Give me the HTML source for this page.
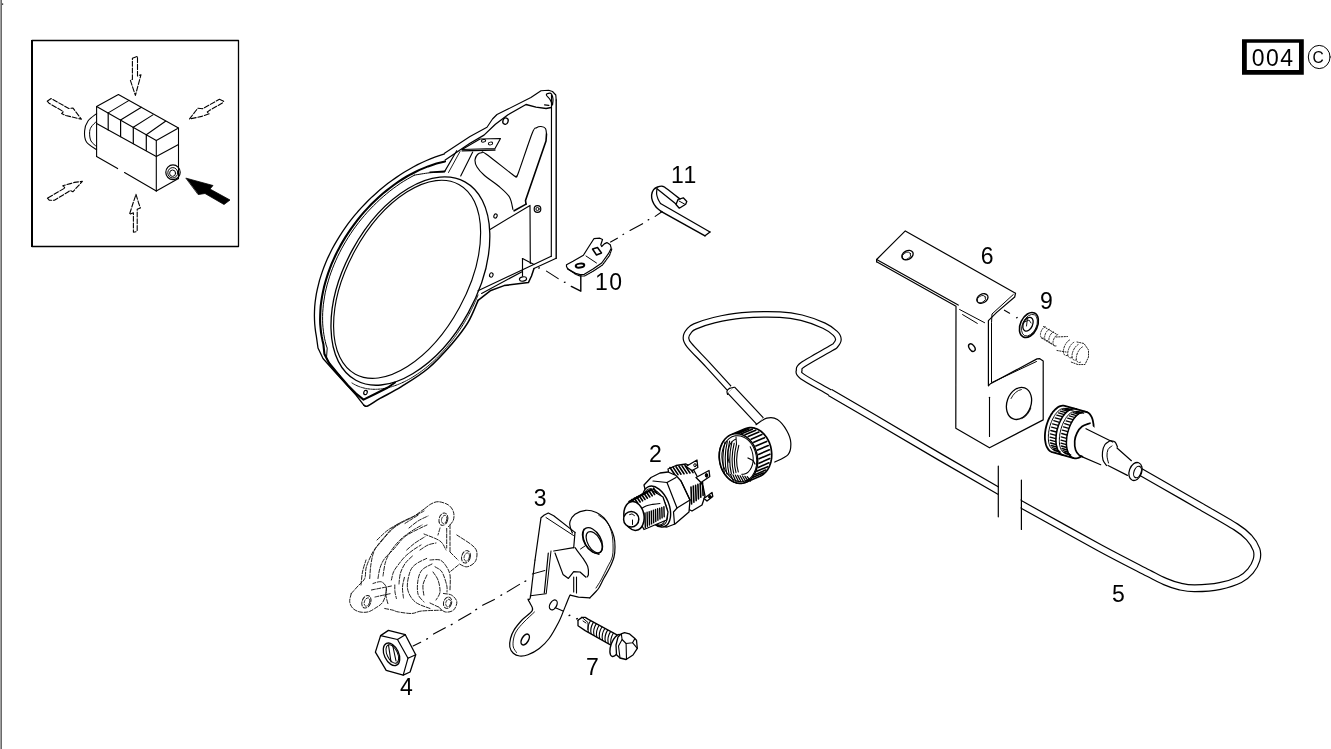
<!DOCTYPE html>
<html><head><meta charset="utf-8"><style>
html,body{margin:0;padding:0;background:#fff;}
body{width:1331px;height:749px;overflow:hidden;position:relative;}
svg{position:absolute;left:0;top:0;will-change:transform;}
text{font-family:"Liberation Sans",sans-serif;fill:#000;}
</style></head><body>
<svg width="1331" height="749" viewBox="0 0 1331 749" stroke-linecap="round" stroke-linejoin="round">
<rect x="0" y="0" width="1" height="749" fill="#a0a0a0"/>
<rect x="1" y="0" width="1" height="749" fill="#6a6a6a"/>
<rect x="2" y="3.5" width="1.2" height="1.2" fill="#000"/>
<rect x="32" y="40.5" width="206.5" height="206" fill="none" stroke="#000" stroke-width="1.3"/>
<rect x="31" y="40" width="2" height="207" fill="#000"/>
<path d="M1242 39.2 H1303.8 V74.7 H1242 Z M1246.8 42.8 V69.9 H1299 V42.8 Z" fill="#000" fill-rule="evenodd"/>
<text x="1251.8" y="65.8" font-size="23" letter-spacing="1.4">004</text>
<ellipse cx="1319.2" cy="57" rx="10.9" ry="11.6" transform="rotate(0 1319.2 57)" stroke="#000" stroke-width="1" fill="none"/>
<text x="1312.6" y="63.1" font-size="15.6">C</text>
<path d="M96.6 106.5 L118.4 94.5 L178.5 128 L156.3 140.5 L96.6 106.5Z" stroke="#000" stroke-width="1.1" fill="none"/>
<path d="M156.3 140.5 L156.3 190.9" stroke="#000" stroke-width="1.1" fill="none"/>
<path d="M178.5 128 L178.5 178.6" stroke="#000" stroke-width="1.1" fill="none"/>
<path d="M96.6 106.5 L96.6 156.4" stroke="#000" stroke-width="1.1" fill="none"/>
<path d="M156.3 190.9 L178.5 178.6" stroke="#000" stroke-width="1.1" fill="none"/>
<path d="M96.6 156.4 L117.6 168.6" stroke="#000" stroke-width="1.1" fill="none"/>
<path d="M124.5 172.5 L156.3 190.9" stroke="#000" stroke-width="1.1" fill="none"/>
<path d="M108.2 112.9 L129.1 100.4" stroke="#000" stroke-width="1.1" fill="none"/>
<path d="M120.6 120 L141.4 107.3" stroke="#000" stroke-width="1.1" fill="none"/>
<path d="M133.3 127.3 L152.9 114.9" stroke="#000" stroke-width="1.1" fill="none"/>
<path d="M146.3 134.8 L165.5 121.3" stroke="#000" stroke-width="1.1" fill="none"/>
<path d="M108.2 112.9 L108.2 130" stroke="#000" stroke-width="1.2" fill="none"/>
<path d="M120.6 120 L120.6 136.6" stroke="#000" stroke-width="1.2" fill="none"/>
<path d="M133.3 127.3 L133.3 143.6" stroke="#000" stroke-width="1.2" fill="none"/>
<path d="M146.3 134.8 L146.3 150.3" stroke="#000" stroke-width="1.2" fill="none"/>
<path d="M96.6 123.5 L156.3 156.4 L178.5 144.6" stroke="#000" stroke-width="1.1" fill="none"/>
<path d="M96.6 113.6 C95.2 114.8 90 118.1 88 121 C86 123.9 84.8 127.5 84.6 131 C84.3 134.5 84.5 138.9 86.5 142 C88.5 145.1 94.9 148.3 96.6 149.6" stroke="#000" stroke-width="1.1" fill="none"/>
<path d="M96.6 121.3 C95.7 122.2 92.4 125 91.2 127 C90 128.9 89.6 130.7 89.6 133 C89.6 135.3 89.8 138.7 91 141 C92.2 143.3 95.7 145.7 96.6 146.6" stroke="#000" stroke-width="1" fill="none"/>
<ellipse cx="173" cy="172.3" rx="7.2" ry="7.4" transform="rotate(0 173 172.3)" stroke="#000" stroke-width="1.2" fill="none"/>
<ellipse cx="172.8" cy="172.8" rx="5" ry="5.2" transform="rotate(0 172.8 172.8)" stroke="#000" stroke-width="1" fill="none"/>
<ellipse cx="172.6" cy="173.2" rx="3" ry="3.2" transform="rotate(0 172.6 173.2)" stroke="#000" stroke-width="1" fill="none"/>
<path d="M186.2 178.2 L213 185.5 L210 189 L230 200 L224 204.5 L205 193.5 L198.5 194.5Z" stroke="#000" stroke-width="0.8" fill="#000"/>
<path d="M132.4 58.3 L137.5 56.3 L137.5 76 L141 74.7 L135.4 95.4 L130.4 80.4 L132.4 79.4Z" stroke="#000" stroke-width="1.1" fill="none" stroke-dasharray="5 1.8"/>
<path d="M136 194.4 L138.5 202.7 L140.4 207.9 L137.2 209.2 L137.2 230.3 L136.6 231.6 L133.4 232.2 L133.4 212.7 L129.5 214.3 L133.4 202.1Z" stroke="#000" stroke-width="1.1" fill="none" stroke-dasharray="5 1.8"/>
<path d="M47.2 101.2 L51.1 98.5 L68.8 108.5 L73 108.1 L81.4 119.2 L65.8 115.5 L61.6 113.6 L63.4 111.6 L49 103.2Z" stroke="#000" stroke-width="1.1" fill="none" stroke-dasharray="5 1.8"/>
<path d="M219.4 99.3 L223.7 101.2 L222.3 103.1 L209.2 110.6 L207.3 112 L209.2 113.8 L201.7 116.4 L189.5 119 L195.6 111 L198 108.2 L202.6 108.7Z" stroke="#000" stroke-width="1.1" fill="none" stroke-dasharray="5 1.8"/>
<path d="M47.4 198.2 L49.2 200.2 L54.4 200.2 L68.4 191.8 L70 190.4 L72.8 191.8 L82.4 181.4 L74.4 182.4 L70.4 183.6 L62.8 185.8 L65.2 187.8Z" stroke="#000" stroke-width="1.1" fill="none" stroke-dasharray="5 1.8"/>
<path d="M556.2 100 L555.8 95 L552.5 91.5 L548.6 90.3 L541 90.7 L530.9 97.5 L508 109.1 L497 114.5 L492.5 119 L487 127.3 L470 136.4 L444.5 153.2" stroke="#000" stroke-width="1.15" fill="none"/>
<path d="M444.5 153.8 L440 155.3 L435.5 156.9 L431 158.6 L426.5 160.5 L422.1 162.5 L417.6 164.7 L413.2 167 L408.9 169.5 L404.5 172 L400.2 174.7 L396 177.6 L391.9 180.5 L387.7 183.6 L383.7 186.7 L379.7 190 L375.9 193.4 L372 196.9 L368.3 200.5 L364.7 204.2 L361.2 207.9 L357.7 211.8 L354.4 215.7 L351.2 219.7 L348.1 223.7 L345.1 227.9 L342.2 232.1 L339.5 236.3 L336.9 240.6 L334.4 244.9 L332 249.3 L329.8 253.7 L327.7 258.1 L325.8 262.5 L324 267 L322.4 271.4 L320.9 275.9 L319.5 280.4 L318.4 284.8 L317.3 289.3 L316.4 293.7 L315.7 298.1 L315.1 302.5 L314.7 306.8 L314.5 311.1 L314.4 315.4 L314.5 319.6 L314.7 323.7 L315.1 327.8 L315.6 331.8 L316.3 335.8 L318 348 L323 358.5 L335 372 L346.7 384.7 L356 395 L364 405.3" stroke="#000" stroke-width="1.3" fill="none"/>
<path d="M364 405.3 C364.6 405.4 365 407 367.7 405.9 C370.4 404.8 374.4 401.6 380 398.4 C385.6 395.2 393.4 391.6 401.4 386.6 C409.4 381.6 419.6 375.6 428 368.5 C436.4 361.4 445.4 351.3 452 343.7 C458.6 336.1 463.3 330.1 467.7 322.9 C472.1 315.7 476.4 304.1 478.1 300.3" stroke="#000" stroke-width="1.6" fill="none"/>
<path d="M551.2 107.5 L546.1 108.5 L536 107.2 L526 104.5 L508 114.8 L495.4 124.3 L484 135.1 L470 143.3 L445.2 160" stroke="#000" stroke-width="1.3" fill="none"/>
<path d="M445 161.4 L440.8 162.4 L436.5 163.5 L432.3 164.9 L428 166.4 L423.8 168.1 L419.5 169.9 L415.3 172 L411 174.2 L406.8 176.5 L402.7 179 L398.6 181.7 L394.5 184.5 L390.5 187.5 L386.5 190.6 L382.6 193.8 L378.7 197.2 L375 200.7 L371.3 204.3 L367.7 208.1 L364.2 211.9 L360.8 215.9 L357.6 219.9 L354.4 224.1 L351.3 228.3 L348.4 232.6 L345.6 236.9 L342.9 241.4 L340.3 245.9 L337.9 250.4 L335.6 255 L333.5 259.6 L331.5 264.2 L329.7 268.9 L328 273.6 L326.5 278.3 L325.1 283 L323.9 287.6 L322.9 292.3 L322 296.9 L321.3 301.5 L320.7 306.1 L320.4 310.6 L320.2 315.1 L320.1 319.5 L320.2 323.8 L320.6 328.1 L321 332.3 L321.7 336.4 L322.5 340.4 L323.4 344.3 L324.4 354 L329 363 L338 374 L348 385.5 L356 393.5 L363.5 399.6 L375 394 L387.9 387.5 L395 382.5" stroke="#000" stroke-width="2.1" fill="none"/>
<path d="M444.4 172 C441.9 172.1 434.7 172.3 429.7 172.8 C424.7 173.3 417.1 174.7 414.6 175.1" stroke="#000" stroke-width="1.0" fill="none"/>
<path d="M414.6 175.1 L411 177 L407.4 179.1 L403.8 181.2 L400.2 183.5 L396.7 186 L393.2 188.5 L389.8 191.1 L386.4 193.9 L383.1 196.7 L379.8 199.6 L376.6 202.7 L373.4 205.8 L370.3 209 L367.2 212.3 L364.3 215.7 L361.4 219.1 L358.6 222.6 L355.9 226.2 L353.2 229.9 L350.7 233.6 L348.3 237.3 L345.9 241.2 L343.7 245 L341.5 248.9 L339.5 252.8 L337.5 256.8 L335.7 260.8 L334 264.8 L332.4 268.8 L330.9 272.8 L329.5 276.8 L328.3 280.9 L327.1 284.9 L326.1 288.9 L325.2 292.9 L324.5 296.9 L323.9 300.9 L323.3 304.8 L323 308.7 L322.7 312.6 L322.6 316.4 L322.6 320.2 L322.7 323.9 L323 327.6 L323.4 331.2 L323.9 334.7 L324.5 338.2 L325.3 341.6 L326.1 344.9 L327.2 348.1 L326.5 358 L331 365.5 L340 375.5" stroke="#000" stroke-width="1.0" fill="none"/>
<ellipse cx="407.1" cy="279.3" rx="59.5" ry="108.1" transform="rotate(28.6 407.1 279.3)" stroke="#000" stroke-width="1.15" fill="none"/>
<ellipse cx="410.4" cy="281.1" rx="65.9" ry="113.2" transform="rotate(28.8 410.4 281.1)" stroke="#000" stroke-width="1.3" fill="none"/>
<path d="M 352 383 A 67 114.5 28.8 0 0 478 295" stroke="#000" stroke-width="1.0" fill="none" stroke-dasharray="1.5 1"/>
<path d="M551.5 94.5 L551.3 256.3" stroke="#000" stroke-width="1.15" fill="none"/>
<path d="M556.2 100 L556.2 258.3" stroke="#000" stroke-width="1.4" fill="none"/>
<path d="M478 290.8 L551.2 256.3" stroke="#000" stroke-width="1.15" fill="none"/>
<path d="M556.2 258.3 L534 268.5" stroke="#000" stroke-width="1.15" fill="none"/>
<path d="M481.6 293.4 L522.5 271.5" stroke="#000" stroke-width="1.15" fill="none"/>
<path d="M534 268.5 L531.5 276 L528.4 282.6 L504.1 285.6 L490.2 290.8 L478.1 300.3" stroke="#000" stroke-width="1.5" fill="none"/>
<path d="M522.5 258.5 L522.5 276" stroke="#000" stroke-width="1.15" fill="none"/>
<path d="M522.5 258.5 L534 264.5" stroke="#000" stroke-width="1.15" fill="none"/>
<ellipse cx="523" cy="279" rx="3.6" ry="2.1" transform="rotate(-10 523 279)" stroke="#000" stroke-width="1.15" fill="none"/>
<path d="M490 229.5 L530 205.4 L530.3 263.5" stroke="#000" stroke-width="1.15" fill="none"/>
<path d="M512.9 209.4 C512.3 207.3 511.7 200.7 509.3 196.8 C506.9 192.9 502.7 189.6 498.5 186 C494.3 182.4 487.6 178.2 484 175 C480.4 171.8 478.5 169.5 477 167 C475.5 164.5 474.9 162.1 475 160 C475.1 157.9 476.4 155.7 477.5 154.5 C478.6 153.3 480.1 152.9 481.5 152.8 C482.9 152.7 480.7 150.3 486 154 C491.3 157.7 508.1 171.3 513.1 175 C518.1 178.7 515.1 176.6 516 176.2 C516.9 175.8 515.8 179.7 518.5 172.5 C521.2 165.3 529.2 140.6 532.2 133.2 C535.2 125.7 535 128.9 536.5 127.8 C538 126.7 539.5 126.4 541 126.5 C542.5 126.6 544.6 127.2 545.5 128.5 C546.4 129.8 546.3 133.1 546.5 134" stroke="#000" stroke-width="1.15" fill="none"/>
<path d="M546.5 134 L546 141 L525.5 200.4 L526 204.1" stroke="#000" stroke-width="1.6" fill="none"/>
<path d="M526.1 204.1 L514.1 210.8" stroke="#000" stroke-width="1.6" fill="none"/>
<path d="M444.7 171.4 L456.7 150.7" stroke="#000" stroke-width="1.15" fill="none"/>
<path d="M448.5 172.5 L460 151.5" stroke="#000" stroke-width="0.9" fill="none"/>
<path d="M460.7 176 L472.7 152" stroke="#000" stroke-width="1.15" fill="none"/>
<path d="M430 172.2 L444.7 171.4" stroke="#000" stroke-width="1.6" fill="none"/>
<path d="M462 149.5 L480 139 L500.5 138.5 L495 148.5 L462 149.5" stroke="#000" stroke-width="1.15" fill="none"/>
<path d="M462 150.8 L495 150" stroke="#000" stroke-width="1.3" fill="none"/>
<ellipse cx="483.5" cy="140.8" rx="2.2" ry="1.3" transform="rotate(-10 483.5 140.8)" stroke="#000" stroke-width="1" fill="none"/>
<ellipse cx="490.5" cy="143.5" rx="2.2" ry="1.4" transform="rotate(-10 490.5 143.5)" stroke="#000" stroke-width="1" fill="none"/>
<ellipse cx="505.5" cy="121.1" rx="2.6" ry="3.2" transform="rotate(20 505.5 121.1)" stroke="#000" stroke-width="1.3" fill="none"/>
<path d="M552.5 105 C552.6 104 553.2 100.8 553 99 C552.8 97.2 552.2 95 551.5 94 C550.8 93 549.4 93.1 548.5 93.3 C547.6 93.5 546.1 94 546.4 95 C546.6 96 549 97.8 550 99.5 C551 101.2 552.1 104.1 552.5 105" stroke="#000" stroke-width="1.2" fill="none"/>
<path d="M544.6 104.8 L548.8 105.4" stroke="#000" stroke-width="1.3" fill="none"/>
<ellipse cx="495.5" cy="216" rx="1.6" ry="2.2" transform="rotate(20 495.5 216)" stroke="#000" stroke-width="1.1" fill="none"/>
<ellipse cx="537.5" cy="209" rx="3.3" ry="3.3" transform="rotate(0 537.5 209)" stroke="#000" stroke-width="1.2" fill="none"/>
<ellipse cx="537.5" cy="209" rx="1.6" ry="1.6" transform="rotate(0 537.5 209)" stroke="#000" stroke-width="1" fill="none"/>
<ellipse cx="491.3" cy="275" rx="1.7" ry="2.2" transform="rotate(20 491.3 275)" stroke="#000" stroke-width="1.1" fill="none"/>
<ellipse cx="365.5" cy="392.5" rx="1.7" ry="2.2" transform="rotate(20 365.5 392.5)" stroke="#000" stroke-width="1.2" fill="none"/>
<path d="M660.5 203.5 L710 232" stroke="#000" stroke-width="1.3" fill="none"/>
<path d="M661 211.3 L705 235.8" stroke="#000" stroke-width="1.5" fill="none"/>
<path d="M710 232 L705 235.8" stroke="#000" stroke-width="1.3" fill="none"/>
<path d="M661 211.3 C660.2 210.6 657.4 208.7 656 207 C654.6 205.3 653.2 203 652.5 201 C651.8 199 651.4 196.9 651.6 195 C651.8 193.1 652.6 190.9 653.6 189.6 C654.6 188.3 656.1 187.6 657.6 187 C659.1 186.4 660.9 185.9 662.4 186.2 C663.9 186.4 663.5 186.4 666.4 188.5 C669.3 190.6 677.7 197.2 680 199" stroke="#000" stroke-width="1.4" fill="none"/>
<path d="M657 188.8 C656.9 189.7 656.4 192.3 656.6 194 C656.8 195.7 657.4 197.4 658 199 C658.6 200.6 660.1 202.8 660.5 203.5" stroke="#000" stroke-width="1.2" fill="none"/>
<path d="M657 188.8 L676 204" stroke="#000" stroke-width="1.3" fill="none"/>
<path d="M678 199.5 L683.3 197.8 L686.8 201.5 L685.7 204.2 L679.3 208.2 L676 204.5 L678 199.5" stroke="#000" stroke-width="1.3" fill="none"/>
<path d="M679 201 L684.5 204" stroke="#000" stroke-width="1" fill="none"/>
<line x1="655.2" y1="216.4" x2="662.2" y2="211.5" stroke="#000" stroke-width="1.1"/>
<path d="M566.5 264.7 L573 261.3 L583.4 255.2 L587.8 248.2 L593.9 238.7 L599.9 238.2 L602.5 239.5 L600.8 244.8 L601.7 246.5 L604.3 243.9 L606.9 242.6 L610.3 244.8 L611.2 248.2 L608.6 253.4 L601.7 263 L593 269.1 L584.3 274.3 L580 274.7 L575.6 273.4 L567.8 269.1 L566.5 266.5Z" stroke="#000" stroke-width="1.2" fill="none"/>
<path d="M567.5 268.5 L576 274.5 L580 276 L584.5 276 L593.5 271 L602.5 265 L609.5 255.5 L611.8 249" stroke="#000" stroke-width="1.2" fill="none" stroke-dasharray="1.6 1"/>
<ellipse cx="580" cy="265.6" rx="4.3" ry="2" transform="rotate(-8 580 265.6)" stroke="#000" stroke-width="2" fill="none"/>
<path d="M592.5 249 L597.5 247.5 L601.5 253 L596.5 255Z" stroke="#000" stroke-width="1.5" fill="none"/>
<path d="M586 256 L596.5 263" stroke="#000" stroke-width="1" fill="none"/>
<path d="M580.8 275 L580.8 291.2 L571.3 286.4" stroke="#000" stroke-width="1.4" fill="none"/>
<line x1="610.6" y1="242.1" x2="617.4" y2="238.2" stroke="#000" stroke-width="1.1"/>
<line x1="623" y1="234.5" x2="623.6" y2="234.2" stroke="#000" stroke-width="1.2"/>
<line x1="630" y1="230.5" x2="642.6" y2="223.7" stroke="#000" stroke-width="1.1"/>
<line x1="648.2" y1="219.9" x2="648.8" y2="219.6" stroke="#000" stroke-width="1.2"/>
<line x1="538.7" y1="268.1" x2="539.4" y2="267.8" stroke="#000" stroke-width="1.3"/>
<line x1="546.5" y1="271.1" x2="558.2" y2="278.6" stroke="#000" stroke-width="1.1"/>
<line x1="564.4" y1="282.4" x2="565.1" y2="282.2" stroke="#000" stroke-width="1.3"/>
<text x="595" y="290" font-size="23" letter-spacing="1.4">10</text>
<text x="671" y="183" font-size="23" letter-spacing="1.3">11</text>
<text x="980.7" y="264.2" font-size="23">6</text>
<text x="1039.9" y="309.1" font-size="23">9</text>
<text x="648.9" y="462.2" font-size="23">2</text>
<text x="533.7" y="505.8" font-size="23">3</text>
<text x="1112.1" y="601.9" font-size="23">5</text>
<text x="586" y="675.3" font-size="23">7</text>
<text x="400" y="695.2" font-size="23">4</text>
<path d="M729 388 C725.5 384.2 714.6 372.2 708 365 C701.4 357.8 692.9 349.6 689.2 345 C685.5 340.4 686 339.7 686 337.4 C686 335.1 687.5 332.8 689 331 C690.5 329.2 690.6 328.3 694.8 326.5 C699 324.7 706.1 322.1 714 320.2 C721.9 318.3 731 316.3 742 315.4 C753 314.5 770.1 314.2 780 314.6 C789.9 315 794.2 315.9 801.5 317.7 C808.8 319.5 818.4 323.1 824 325.7 C829.6 328.3 832.9 331.1 835.3 333.4 C837.7 335.7 838.4 337.5 838.4 339.5 C838.4 341.5 836.6 343.9 835.3 345.4 C834 346.9 836.1 345.2 830.7 348.4 C825.3 351.6 808.2 360.9 803 364.5 C797.8 368.1 799.3 368.2 799.2 370.2 C799.1 372.2 797.1 372.7 802.2 376.4 C807.3 380.1 821.8 387.7 830 392.5 C838.2 397.3 847.9 402.9 851.5 405" stroke="#000" stroke-width="6.8" fill="none" stroke-linecap="butt"/>
<path d="M830 392.5 L851.5 405 L873 417.5 L940 457 L1000 491.6" stroke="#000" stroke-width="7.9" fill="none" stroke-linecap="butt"/>
<path d="M729 388 C725.5 384.2 714.6 372.2 708 365 C701.4 357.8 692.9 349.6 689.2 345 C685.5 340.4 686 339.7 686 337.4 C686 335.1 687.5 332.8 689 331 C690.5 329.2 690.6 328.3 694.8 326.5 C699 324.7 706.1 322.1 714 320.2 C721.9 318.3 731 316.3 742 315.4 C753 314.5 770.1 314.2 780 314.6 C789.9 315 794.2 315.9 801.5 317.7 C808.8 319.5 818.4 323.1 824 325.7 C829.6 328.3 832.9 331.1 835.3 333.4 C837.7 335.7 838.4 337.5 838.4 339.5 C838.4 341.5 836.6 343.9 835.3 345.4 C834 346.9 836.1 345.2 830.7 348.4 C825.3 351.6 808.2 360.9 803 364.5 C797.8 368.1 799.3 368.2 799.2 370.2 C799.1 372.2 797.1 372.7 802.2 376.4 C807.3 380.1 821.8 387.7 830 392.5 C838.2 397.3 847.9 402.9 851.5 405" stroke="#fff" stroke-width="4.4" fill="none" stroke-linecap="butt"/>
<path d="M830 392.5 L851.5 405 L873 417.5 L940 457 L1000 491.6" stroke="#fff" stroke-width="5.5" fill="none" stroke-linecap="butt"/>
<path d="M1019.5 503.4 C1019.8 503.6 1008 497.1 1021.4 504.5 C1034.8 511.9 1078.9 536.6 1100 548 C1121.1 559.4 1137.2 567.4 1148 573 C1158.8 578.6 1159.7 579.2 1165 581.5 C1170.3 583.8 1175 585.4 1180 586.5 C1185 587.6 1188.3 588.4 1195 588.3 C1201.7 588.2 1212.5 587.5 1220 586 C1227.5 584.5 1234.9 582 1240 579.5 C1245.1 577 1247.8 574.2 1250.5 571 C1253.2 567.8 1255.5 563.6 1256.5 560 C1257.5 556.4 1257.8 553.2 1256.5 549.5 C1255.2 545.8 1252.4 541.2 1249 537.5 C1245.6 533.8 1244.2 532.2 1236 527 C1227.8 521.8 1212.7 513.3 1200 506 C1187.3 498.7 1170.2 488.8 1160 483 C1149.8 477.2 1142.5 473 1139 471" stroke="#000" stroke-width="8.0" fill="none" stroke-linecap="butt"/>
<path d="M1019.5 503.4 C1019.8 503.6 1008 497.1 1021.4 504.5 C1034.8 511.9 1078.9 536.6 1100 548 C1121.1 559.4 1137.2 567.4 1148 573 C1158.8 578.6 1159.7 579.2 1165 581.5 C1170.3 583.8 1175 585.4 1180 586.5 C1185 587.6 1188.3 588.4 1195 588.3 C1201.7 588.2 1212.5 587.5 1220 586 C1227.5 584.5 1234.9 582 1240 579.5 C1245.1 577 1247.8 574.2 1250.5 571 C1253.2 567.8 1255.5 563.6 1256.5 560 C1257.5 556.4 1257.8 553.2 1256.5 549.5 C1255.2 545.8 1252.4 541.2 1249 537.5 C1245.6 533.8 1244.2 532.2 1236 527 C1227.8 521.8 1212.7 513.3 1200 506 C1187.3 498.7 1170.2 488.8 1160 483 C1149.8 477.2 1142.5 473 1139 471" stroke="#fff" stroke-width="5.6" fill="none" stroke-linecap="butt"/>
<rect x="999" y="470" width="21.6" height="50" fill="#fff"/>
<line x1="998.3" y1="466" x2="998.3" y2="516.8" stroke="#000" stroke-width="1.2"/>
<line x1="1021.4" y1="480" x2="1021.4" y2="529.5" stroke="#000" stroke-width="1.2"/>
<path d="M731 390 L746 406 L760 421" stroke="#000" stroke-width="10.5" fill="none" stroke-linecap="butt"/>
<path d="M731 390 L746 406 L760 421" stroke="#fff" stroke-width="8.1" fill="none" stroke-linecap="butt"/>
<path d="M727.6 394.5 C727.5 393.9 726.7 392 727 391 C727.3 390 728.3 389.1 729.5 388.5 C730.7 387.9 733.2 387.5 734 387.3" stroke="#000" stroke-width="1.2" fill="none"/>
<path d="M876.6 259.5 L905.3 230.9 L1015.5 293.3" stroke="#000" stroke-width="1.2" fill="none"/>
<path d="M876.6 259.5 L876.6 261.8" stroke="#000" stroke-width="1.2" fill="none"/>
<path d="M876.6 259.5 L958.2 305.1" stroke="#000" stroke-width="1.2" fill="none"/>
<path d="M876.6 261.8 L956 306.3 L955.8 428.2 L989.5 447.8 L1043.2 419.9 L1043.2 361 L1039.5 358.6 L1037 358.9 L990.5 383.7 L988.4 385.8 L988.4 320.7 L996.7 312.4 L1014.7 297 L1015.5 293.3" stroke="#000" stroke-width="1.2" fill="none"/>
<path d="M1013.3 294.5 L992 314 L991.5 322.7 L991.5 382.7 L1036.5 361.5" stroke="#000" stroke-width="1" fill="none"/>
<path d="M989.5 397.2 L989.5 436.5" stroke="#000" stroke-width="1.1" fill="none"/>
<path d="M959.6 309.5 L984.6 322.7" stroke="#000" stroke-width="1" fill="none"/>
<path d="M962.6 314.6 L977.3 323.4" stroke="#000" stroke-width="1" fill="none"/>
<ellipse cx="907.5" cy="255.1" rx="6" ry="4.3" transform="rotate(-30 907.5 255.1)" stroke="#000" stroke-width="1.3" fill="none"/>
<ellipse cx="906.5" cy="255.8" rx="4.5" ry="3.2" transform="rotate(-30 906.5 255.8)" stroke="#000" stroke-width="0.8" fill="none"/>
<ellipse cx="982.4" cy="298.5" rx="6" ry="4.3" transform="rotate(-30 982.4 298.5)" stroke="#000" stroke-width="1.3" fill="none"/>
<ellipse cx="981.4" cy="299.2" rx="4.5" ry="3.2" transform="rotate(-30 981.4 299.2)" stroke="#000" stroke-width="0.8" fill="none"/>
<ellipse cx="971.9" cy="347.6" rx="2.6" ry="4.2" transform="rotate(-35 971.9 347.6)" stroke="#000" stroke-width="1.4" fill="none"/>
<ellipse cx="1019" cy="403.4" rx="12" ry="16.5" transform="rotate(20 1019 403.4)" stroke="#000" stroke-width="1.3" fill="none"/>
<ellipse cx="1020.5" cy="404.4" rx="11" ry="15.5" transform="rotate(20 1020.5 404.4)" stroke="#000" stroke-width="0.8" fill="none" stroke-dasharray="14 30"/>
<line x1="1004.4" y1="310.2" x2="1009.6" y2="313.2" stroke="#000" stroke-width="1.1"/>
<line x1="1016.6" y1="317.8" x2="1017.2" y2="317.5" stroke="#000" stroke-width="1.3"/>
<ellipse cx="1028.9" cy="325" rx="8.5" ry="13.2" transform="rotate(25 1028.9 325)" stroke="#000" stroke-width="1.6" fill="none"/>
<ellipse cx="1029.5" cy="325.2" rx="7" ry="11.5" transform="rotate(25 1029.5 325.2)" stroke="#000" stroke-width="0.8" fill="none"/>
<ellipse cx="1028" cy="324.2" rx="4.6" ry="7.3" transform="rotate(25 1028 324.2)" stroke="#000" stroke-width="1.3" fill="none"/>
<path d="M1024.5 322 L1029 320 L1031 323" stroke="#000" stroke-width="0.9" fill="none"/>
<path d="M1027.5 318 L1026.5 326" stroke="#000" stroke-width="0.9" fill="none"/>
<path d="M1045.2 326.7 A 3.4 6 25 0 0 1044 338" stroke="#222" stroke-width="1" fill="none" stroke-dasharray="1.3 1.4"/>
<path d="M1049.4 329.3 A 3.4 6 25 0 0 1048.2 340.6" stroke="#222" stroke-width="1" fill="none" stroke-dasharray="1.3 1.4"/>
<path d="M1053.6 331.9 A 3.4 6 25 0 0 1052.4 343.2" stroke="#222" stroke-width="1" fill="none" stroke-dasharray="1.3 1.4"/>
<path d="M1057.8 334.5 A 3.4 6 25 0 0 1056.6 345.8" stroke="#222" stroke-width="1" fill="none" stroke-dasharray="1.3 1.4"/>
<path d="M1043.5 326.5 L1057 334.5" stroke="#222" stroke-width="1" fill="none" stroke-dasharray="1.3 1.4"/>
<path d="M1041.5 338 L1055 346" stroke="#222" stroke-width="1" fill="none" stroke-dasharray="1.3 1.4"/>
<path d="M1056 337 L1067.5 336.5" stroke="#222" stroke-width="1" fill="none" stroke-dasharray="1.3 1.4"/>
<path d="M1069.5 340 A 4 7.8 25 0 0 1068.2 355" stroke="#222" stroke-width="1" fill="none" stroke-dasharray="1.3 1.4"/>
<path d="M1073.8 342.3 A 4 7.8 25 0 0 1072.5 357.3" stroke="#222" stroke-width="1" fill="none" stroke-dasharray="1.3 1.4"/>
<path d="M1078.1 344.6 A 4 7.8 25 0 0 1076.8 359.6" stroke="#222" stroke-width="1" fill="none" stroke-dasharray="1.3 1.4"/>
<path d="M1082.4 346.9 A 4 7.8 25 0 0 1081.1 361.9" stroke="#222" stroke-width="1" fill="none" stroke-dasharray="1.3 1.4"/>
<path d="M1057 350.5 L1066 352" stroke="#222" stroke-width="1" fill="none" stroke-dasharray="1.3 1.4"/>
<path d="M1077 342 L1084 343.5 L1088.5 350 L1088.5 357 L1085 364.5 L1078 364.6 L1071 362" stroke="#222" stroke-width="1" fill="none" stroke-dasharray="1.3 1.4"/>
<path d="M1044.9 435.9 L1045 433.9 L1045.2 431.9 L1045.5 429.8 L1045.9 427.8 L1046.4 425.8 L1047 423.8 L1047.7 421.8 L1048.4 419.9 L1049.3 418 L1050.2 416.3 L1051.1 414.6 L1052.2 413.1 L1053.2 411.6 L1054.4 410.3 L1055.5 409.2 L1056.7 408.2 L1057.8 407.3 L1059 406.6 L1060.2 406.1 L1061.4 405.8 L1062.5 405.6 L1063.6 405.6 L1064.7 405.8 L1086.2 411.8 L1087.2 412.2 L1088.2 412.7 L1089.1 413.4 L1090 414.3 L1090.7 415.4 L1091.4 416.5 L1092 417.9 L1092.5 419.3 L1092.9 420.9 L1093.2 422.6 L1093.5 424.4 L1093.6 426.2 L1093.6 428.1 L1093.5 430.1 L1093.3 432.1 L1093 434.2 L1092.6 436.2 L1092.1 438.2 L1091.5 440.2 L1090.8 442.2 L1090.1 444.1 L1089.2 446 L1088.3 447.7 L1087.4 449.4 L1086.3 450.9 L1085.3 452.4 L1084.1 453.7 L1083 454.8 L1081.8 455.8 L1080.7 456.7 L1079.5 457.4 L1078.3 457.9 L1077.1 458.2 L1076 458.4 L1074.9 458.4 L1073.8 458.2 L1052.3 452.2 L1051.3 451.8 L1050.3 451.3 L1049.4 450.6 L1048.5 449.7 L1047.8 448.6 L1047.1 447.5 L1046.5 446.1 L1046 444.7 L1045.6 443.1 L1045.3 441.4 L1045 439.6 L1044.9 437.8Z" stroke="#000" stroke-width="1.8" fill="#fff"/>
<path d="M1063.3 455.2 L1062.5 454.9 L1061.8 454.6 L1061.1 454.1 L1060.4 453.6 L1059.7 452.9 L1059.1 452.2 L1058.6 451.4 L1058.1 450.5 L1057.6 449.5 L1057.2 448.4 L1056.9 447.3 L1056.6 446.1 L1056.3 444.9 L1056.1 443.5 L1056 442.2 L1055.9 440.8 L1055.9 439.4 L1056 437.9 L1056.1 436.4 L1056.2 434.9 L1056.4 433.3 L1056.7 431.8 L1057 430.3 L1057.4 428.8 L1057.9 427.3 L1058.3 425.8 L1058.9 424.3 L1059.4 422.9 L1060.1 421.5 L1060.7 420.1 L1061.4 418.8 L1062.1 417.6 L1062.9 416.4 L1063.7 415.3 L1064.5 414.3 L1065.4 413.3 L1066.2 412.4 L1067.1 411.6 L1068 410.9 L1068.8 410.3 L1069.7 409.8 L1070.6 409.3 L1071.5 409 L1072.4 408.8 L1073.2 408.6 L1074.1 408.6 L1074.9 408.7 L1075.7 408.8 L1076.5 409.1" stroke="#000" stroke-width="1.6" fill="none"/>
<path d="M1053.9 450.1 L1053.3 449.9 L1052.7 449.6 L1052.2 449.2 L1051.6 448.7 L1051.1 448.1 L1050.7 447.5 L1050.2 446.8 L1049.9 446 L1049.5 445.1 L1049.2 444.2 L1048.9 443.2 L1048.7 442.2 L1048.6 441 L1048.4 439.9 L1048.4 438.7 L1048.4 437.4 L1048.4 436.2 L1048.4 434.9 L1048.6 433.5 L1048.7 432.2 L1048.9 430.8 L1049.2 429.4 L1049.5 428.1 L1049.8 426.7 L1050.2 425.4 L1050.6 424 L1051.1 422.7 L1051.6 421.4 L1052.1 420.2 L1052.7 419 L1053.3 417.8 L1053.9 416.7 L1054.6 415.6 L1055.2 414.6 L1055.9 413.7 L1056.6 412.8 L1057.3 412 L1058 411.2 L1058.8 410.6 L1059.5 410 L1060.2 409.5 L1060.9 409.1 L1061.7 408.8 L1062.4 408.6 L1063.1 408.4 L1063.8 408.4 L1064.4 408.4 L1065.1 408.5 L1065.7 408.7" stroke="#000" stroke-width="1.0" fill="none"/>
<path d="M1064.9 453.1 L1064.3 452.9 L1063.7 452.6 L1063.2 452.2 L1062.6 451.7 L1062.1 451.1 L1061.7 450.5 L1061.2 449.8 L1060.9 449 L1060.5 448.1 L1060.2 447.2 L1059.9 446.2 L1059.7 445.2 L1059.6 444 L1059.4 442.9 L1059.4 441.7 L1059.4 440.4 L1059.4 439.2 L1059.4 437.9 L1059.6 436.5 L1059.7 435.2 L1059.9 433.8 L1060.2 432.4 L1060.5 431.1 L1060.8 429.7 L1061.2 428.4 L1061.6 427 L1062.1 425.7 L1062.6 424.4 L1063.1 423.2 L1063.7 422 L1064.3 420.8 L1064.9 419.7 L1065.6 418.6 L1066.2 417.6 L1066.9 416.7 L1067.6 415.8 L1068.3 415 L1069 414.2 L1069.8 413.6 L1070.5 413 L1071.2 412.5 L1071.9 412.1 L1072.7 411.8 L1073.4 411.6 L1074.1 411.4 L1074.8 411.4 L1075.4 411.4 L1076.1 411.5 L1076.7 411.7" stroke="#000" stroke-width="1.0" fill="none"/>
<path d="M1073.8 458.2 L1073 457.9 L1072.3 457.6 L1071.6 457.1 L1070.9 456.6 L1070.2 455.9 L1069.6 455.2 L1069.1 454.4 L1068.6 453.5 L1068.1 452.5 L1067.7 451.4 L1067.4 450.3 L1067.1 449.1 L1066.8 447.9 L1066.6 446.5 L1066.5 445.2 L1066.4 443.8 L1066.4 442.4 L1066.5 440.9 L1066.6 439.4 L1066.7 437.9 L1066.9 436.3 L1067.2 434.8 L1067.5 433.3 L1067.9 431.8 L1068.4 430.3 L1068.8 428.8 L1069.4 427.3 L1069.9 425.9 L1070.6 424.5 L1071.2 423.1 L1071.9 421.8 L1072.6 420.6 L1073.4 419.4 L1074.2 418.3 L1075 417.3 L1075.9 416.3 L1076.7 415.4 L1077.6 414.6 L1078.5 413.9 L1079.3 413.3 L1080.2 412.8 L1081.1 412.3 L1082 412 L1082.9 411.8 L1083.7 411.6 L1084.6 411.6 L1085.4 411.7 L1086.2 411.8 L1087 412.1" stroke="#000" stroke-width="1.5" fill="none"/>
<line x1="1054.5" y1="450.5" x2="1060.1" y2="452" stroke="#000" stroke-width="1.3"/>
<line x1="1053.2" y1="449.3" x2="1058.8" y2="450.8" stroke="#000" stroke-width="1.3"/>
<line x1="1052" y1="447.6" x2="1057.6" y2="449.1" stroke="#000" stroke-width="1.3"/>
<line x1="1051.1" y1="445.5" x2="1056.7" y2="447" stroke="#000" stroke-width="1.3"/>
<line x1="1050.5" y1="443" x2="1056.1" y2="444.5" stroke="#000" stroke-width="1.3"/>
<line x1="1050.1" y1="440.2" x2="1055.7" y2="441.7" stroke="#000" stroke-width="1.3"/>
<line x1="1050.1" y1="437.1" x2="1055.7" y2="438.6" stroke="#000" stroke-width="1.3"/>
<line x1="1050.3" y1="433.9" x2="1055.9" y2="435.4" stroke="#000" stroke-width="1.3"/>
<line x1="1050.8" y1="430.5" x2="1056.4" y2="432" stroke="#000" stroke-width="1.3"/>
<line x1="1051.6" y1="427.2" x2="1057.2" y2="428.7" stroke="#000" stroke-width="1.3"/>
<line x1="1052.6" y1="423.9" x2="1058.2" y2="425.4" stroke="#000" stroke-width="1.3"/>
<line x1="1053.8" y1="420.7" x2="1059.4" y2="422.3" stroke="#000" stroke-width="1.3"/>
<line x1="1055.2" y1="417.8" x2="1060.8" y2="419.3" stroke="#000" stroke-width="1.3"/>
<line x1="1056.8" y1="415.2" x2="1062.4" y2="416.7" stroke="#000" stroke-width="1.3"/>
<line x1="1058.6" y1="412.9" x2="1064.2" y2="414.5" stroke="#000" stroke-width="1.3"/>
<line x1="1060.3" y1="411.1" x2="1065.9" y2="412.6" stroke="#000" stroke-width="1.3"/>
<line x1="1062.2" y1="409.7" x2="1067.8" y2="411.2" stroke="#000" stroke-width="1.3"/>
<line x1="1064" y1="408.8" x2="1069.6" y2="410.4" stroke="#000" stroke-width="1.3"/>
<line x1="1065.7" y1="408.5" x2="1071.3" y2="410" stroke="#000" stroke-width="1.3"/>
<line x1="1067.4" y1="408.6" x2="1073" y2="410.2" stroke="#000" stroke-width="1.3"/>
<line x1="1065.4" y1="453.5" x2="1070.7" y2="455" stroke="#000" stroke-width="1.3"/>
<line x1="1064" y1="452.3" x2="1069.4" y2="453.8" stroke="#000" stroke-width="1.3"/>
<line x1="1062.9" y1="450.6" x2="1068.2" y2="452.1" stroke="#000" stroke-width="1.3"/>
<line x1="1062" y1="448.5" x2="1067.3" y2="450" stroke="#000" stroke-width="1.3"/>
<line x1="1061.4" y1="446" x2="1066.7" y2="447.5" stroke="#000" stroke-width="1.3"/>
<line x1="1061" y1="443.2" x2="1066.4" y2="444.7" stroke="#000" stroke-width="1.3"/>
<line x1="1061" y1="440.1" x2="1066.3" y2="441.6" stroke="#000" stroke-width="1.3"/>
<line x1="1061.2" y1="436.9" x2="1066.5" y2="438.4" stroke="#000" stroke-width="1.3"/>
<line x1="1061.7" y1="433.5" x2="1067" y2="435" stroke="#000" stroke-width="1.3"/>
<line x1="1062.4" y1="430.2" x2="1067.8" y2="431.7" stroke="#000" stroke-width="1.3"/>
<line x1="1063.5" y1="426.9" x2="1068.8" y2="428.4" stroke="#000" stroke-width="1.3"/>
<line x1="1064.7" y1="423.7" x2="1070" y2="425.3" stroke="#000" stroke-width="1.3"/>
<line x1="1066.1" y1="420.8" x2="1071.5" y2="422.3" stroke="#000" stroke-width="1.3"/>
<line x1="1067.7" y1="418.2" x2="1073.1" y2="419.7" stroke="#000" stroke-width="1.3"/>
<line x1="1069.4" y1="415.9" x2="1074.8" y2="417.5" stroke="#000" stroke-width="1.3"/>
<line x1="1071.2" y1="414.1" x2="1076.6" y2="415.6" stroke="#000" stroke-width="1.3"/>
<line x1="1073.1" y1="412.7" x2="1078.4" y2="414.2" stroke="#000" stroke-width="1.3"/>
<line x1="1074.9" y1="411.8" x2="1080.2" y2="413.4" stroke="#000" stroke-width="1.3"/>
<line x1="1076.6" y1="411.5" x2="1081.9" y2="413" stroke="#000" stroke-width="1.3"/>
<line x1="1078.3" y1="411.6" x2="1083.6" y2="413.2" stroke="#000" stroke-width="1.3"/>
<path d="M1089.2 423.6 L1112.8 442 L1100.7 464.7 L1082.4 456.5 L1077 452 L1075 441 L1077 432 L1082 426.5Z" stroke="#000" stroke-width="0" fill="#fff" stroke="none"/>
<path d="M1090 423.2 C1088.7 423.8 1084.2 424.9 1082 426.5 C1079.8 428.1 1078.2 430.6 1077 433 C1075.8 435.4 1074.9 438.2 1074.7 441 C1074.5 443.8 1074.9 447.7 1075.6 450 C1076.3 452.3 1077.9 453.9 1079 455 C1080.1 456.1 1081.8 456.2 1082.4 456.5" stroke="#000" stroke-width="1.7" fill="none"/>
<path d="M1086 428.7 L1112.8 442" stroke="#000" stroke-width="1.2" fill="none"/>
<path d="M1079.4 455.6 L1100.7 464.7" stroke="#000" stroke-width="1.2" fill="none"/>
<path d="M1109.5 441 C1108.8 441.6 1106.2 442.7 1105 444.5 C1103.8 446.3 1102.8 449.4 1102.5 452 C1102.2 454.6 1102.3 457.8 1103 460 C1103.7 462.2 1105.9 464.6 1106.5 465.5" stroke="#000" stroke-width="1.2" fill="none"/>
<path d="M1110 440.5 C1110.8 440.8 1113.8 440.9 1115 442 C1116.2 443.1 1117.1 446.2 1117.5 447" stroke="#000" stroke-width="1.2" fill="none"/>
<path d="M1112 446 C1111.3 446.6 1108.8 447.8 1108 449.5 C1107.2 451.2 1106.9 453.8 1107 456 C1107.1 458.2 1108.2 461.8 1108.5 463" stroke="#000" stroke-width="1" fill="none"/>
<path d="M1117 448 L1131.4 460.7" stroke="#000" stroke-width="1.2" fill="none"/>
<path d="M1108 465.5 L1127.4 475.4" stroke="#000" stroke-width="1.2" fill="none"/>
<ellipse cx="1135.5" cy="471.5" rx="6.2" ry="9.3" transform="rotate(20 1135.5 471.5)" stroke="#000" stroke-width="1.3" fill="#fff"/>
<ellipse cx="1137.5" cy="472" rx="3.5" ry="6" transform="rotate(20 1137.5 472)" stroke="#000" stroke-width="1.1" fill="none"/>
<path d="M756 424.7 C757.8 423.6 763.2 419.1 766.8 418.2 C770.4 417.3 774.1 417.4 777.4 419.5 C780.7 421.6 784.6 426.8 786.8 430.7 C789 434.6 790.6 438.7 790.8 442.7 C791 446.7 790.8 451.5 788.1 454.7 C785.4 457.9 777 460.8 774.8 462" stroke="#000" stroke-width="1.2" fill="none"/>
<path d="M719.3 455.3 L719.4 453.2 L719.7 451.1 L720.1 449 L720.7 447.1 L721.4 445.2 L722.2 443.4 L723.1 441.8 L724.2 440.2 L725.4 438.8 L726.7 437.6 L728 436.5 L729.5 435.6 L731 434.8 L745 428.8 L746.5 428.3 L748.2 427.9 L749.8 427.7 L751.5 427.7 L753.1 427.9 L754.8 428.2 L756.5 428.8 L758.1 429.5 L759.7 430.4 L761.2 431.5 L762.7 432.8 L764 434.1 L765.3 435.7 L766.5 437.3 L767.6 439.1 L768.6 441 L769.5 442.9 L770.2 445 L770.8 447.1 L771.2 449.2 L771.5 451.4 L771.7 453.5 L771.7 455.7 L771.6 457.8 L771.3 459.9 L770.9 462 L770.3 463.9 L769.6 465.8 L768.8 467.6 L767.9 469.2 L766.8 470.8 L765.6 472.2 L764.3 473.4 L763 474.5 L761.5 475.4 L760 476.2 L746 482.2 L744.5 482.7 L742.8 483.1 L741.2 483.3 L739.5 483.3 L737.9 483.1 L736.2 482.8 L734.5 482.2 L732.9 481.5 L731.3 480.6 L729.8 479.5 L728.3 478.2 L727 476.9 L725.7 475.3 L724.5 473.7 L723.4 471.9 L722.4 470 L721.5 468.1 L720.8 466 L720.2 463.9 L719.8 461.8 L719.5 459.6 L719.3 457.5Z" stroke="#000" stroke-width="1.7" fill="#fff"/>
<line x1="758.6" y1="454.4" x2="769.4" y2="449.8" stroke="#000" stroke-width="1.6"/>
<line x1="759.1" y1="458.8" x2="769.9" y2="454.2" stroke="#000" stroke-width="1.6"/>
<line x1="759" y1="463.2" x2="769.7" y2="458.6" stroke="#000" stroke-width="1.6"/>
<line x1="758.2" y1="467.4" x2="768.9" y2="462.8" stroke="#000" stroke-width="1.6"/>
<line x1="756.8" y1="471.3" x2="767.6" y2="466.7" stroke="#000" stroke-width="1.6"/>
<line x1="754.9" y1="474.7" x2="765.6" y2="470.1" stroke="#000" stroke-width="1.6"/>
<line x1="752.5" y1="477.5" x2="763.2" y2="472.9" stroke="#000" stroke-width="1.6"/>
<line x1="731.8" y1="435.5" x2="742.5" y2="430.9" stroke="#000" stroke-width="1.6"/>
<line x1="734.9" y1="434.1" x2="745.6" y2="429.5" stroke="#000" stroke-width="1.6"/>
<line x1="738.2" y1="433.5" x2="748.9" y2="428.9" stroke="#000" stroke-width="1.6"/>
<line x1="741.6" y1="433.8" x2="752.3" y2="429.2" stroke="#000" stroke-width="1.6"/>
<line x1="745" y1="434.8" x2="755.7" y2="430.2" stroke="#000" stroke-width="1.6"/>
<line x1="748.2" y1="436.6" x2="758.9" y2="432" stroke="#000" stroke-width="1.6"/>
<line x1="751.1" y1="439.2" x2="761.9" y2="434.5" stroke="#000" stroke-width="1.6"/>
<line x1="753.8" y1="442.3" x2="764.5" y2="437.7" stroke="#000" stroke-width="1.6"/>
<line x1="755.9" y1="446" x2="766.7" y2="441.4" stroke="#000" stroke-width="1.6"/>
<line x1="757.6" y1="450.1" x2="768.3" y2="445.5" stroke="#000" stroke-width="1.6"/>
<ellipse cx="738.5" cy="458.5" rx="19" ry="25" transform="rotate(-10 738.5 458.5)" stroke="#000" stroke-width="1.5" fill="#fff"/>
<ellipse cx="739.3" cy="458.7" rx="17.2" ry="23.2" transform="rotate(-10 739.3 458.7)" stroke="#000" stroke-width="1.0" fill="none"/>
<path d="M725 442 Q 721 458 724.5 473.3" stroke="#000" stroke-width="1.1" fill="none"/>
<path d="M727.3 441.6 Q 723.3 458.4 726.8 474" stroke="#000" stroke-width="1.1" fill="none"/>
<path d="M729.6 441.1 Q 725.6 458.8 729.1 474.6" stroke="#000" stroke-width="1.1" fill="none"/>
<path d="M731.9 442.1 Q 727.9 459.2 731.4 474" stroke="#000" stroke-width="1.1" fill="none"/>
<path d="M734.2 443.2 Q 730.2 459.6 733.7 473.3" stroke="#000" stroke-width="1.1" fill="none"/>
<path d="M736.5 444.2 Q 732.5 460 736 472.6" stroke="#000" stroke-width="1.1" fill="none"/>
<path d="M738.8 445.3 Q 734.8 460.4 738.3 471.9" stroke="#000" stroke-width="1.1" fill="none"/>
<line x1="730.5" y1="474.5" x2="733.7" y2="481.8" stroke="#000" stroke-width="1.2"/>
<line x1="732.9" y1="474.8" x2="736.1" y2="481.7" stroke="#000" stroke-width="1.2"/>
<line x1="735.3" y1="475.1" x2="738.5" y2="481.6" stroke="#000" stroke-width="1.2"/>
<line x1="737.7" y1="475.4" x2="740.9" y2="481.5" stroke="#000" stroke-width="1.2"/>
<line x1="740.1" y1="475.7" x2="743.3" y2="481.4" stroke="#000" stroke-width="1.2"/>
<line x1="742.5" y1="476" x2="745.7" y2="481.3" stroke="#000" stroke-width="1.2"/>
<line x1="744.9" y1="476.3" x2="748.1" y2="481.2" stroke="#000" stroke-width="1.2"/>
<line x1="747.3" y1="476.6" x2="750.5" y2="481.1" stroke="#000" stroke-width="1.2"/>
<ellipse cx="740.5" cy="456.5" rx="12.5" ry="18" transform="rotate(-10 740.5 456.5)" stroke="#000" stroke-width="1.0" fill="none" stroke-dasharray="26 18"/>
<path d="M748 458 L753 460.5 L755 464" stroke="#000" stroke-width="1.3" fill="none"/>
<path d="M736 437 L736.5 444" stroke="#000" stroke-width="1" fill="none"/>
<path d="M668 469 L676 465.5 L686 464 L692 467 L697 476 L703 486 L705 496 L702 505 L692 511 L680 505 L672 490Z" stroke="#000" stroke-width="1.3" fill="#fff"/>
<line x1="670" y1="467.5" x2="675" y2="475" stroke="#000" stroke-width="1.6"/>
<line x1="673" y1="467.1" x2="678" y2="474.6" stroke="#000" stroke-width="1.6"/>
<line x1="676" y1="466.7" x2="681" y2="474.2" stroke="#000" stroke-width="1.6"/>
<line x1="679" y1="466.3" x2="684" y2="473.8" stroke="#000" stroke-width="1.6"/>
<line x1="682" y1="465.9" x2="687" y2="473.4" stroke="#000" stroke-width="1.6"/>
<line x1="685" y1="465.5" x2="690" y2="473" stroke="#000" stroke-width="1.6"/>
<line x1="688" y1="465.1" x2="693" y2="472.6" stroke="#000" stroke-width="1.6"/>
<line x1="691" y1="487" x2="691.6" y2="504" stroke="#000" stroke-width="1.6"/>
<line x1="693.3" y1="486.1" x2="693.9" y2="502.3" stroke="#000" stroke-width="1.6"/>
<line x1="695.6" y1="485.2" x2="696.2" y2="500.6" stroke="#000" stroke-width="1.6"/>
<line x1="697.9" y1="484.3" x2="698.5" y2="498.9" stroke="#000" stroke-width="1.6"/>
<line x1="700.2" y1="483.4" x2="700.8" y2="497.2" stroke="#000" stroke-width="1.6"/>
<line x1="702.5" y1="482.5" x2="703.1" y2="495.5" stroke="#000" stroke-width="1.6"/>
<path d="M686 466.5 L697 460 L697.8 467.5 L692 470.5Z" stroke="#000" stroke-width="1.3" fill="#fff"/>
<ellipse cx="695" cy="465.2" rx="1.2" ry="1.6" transform="rotate(0 695 465.2)" stroke="#000" stroke-width="1" fill="none"/>
<path d="M696 477.5 L709 470.5 L709.8 476.5 L701 482.5Z" stroke="#000" stroke-width="1.3" fill="#fff"/>
<ellipse cx="706.5" cy="475.3" rx="1.2" ry="2" transform="rotate(0 706.5 475.3)" stroke="#000" stroke-width="1" fill="#000"/>
<path d="M704 498.5 L712 492.5 L712.8 496.5 L707 501Z" stroke="#000" stroke-width="1.3" fill="#fff"/>
<ellipse cx="709.8" cy="496.8" rx="1.3" ry="1.5" transform="rotate(0 709.8 496.8)" stroke="#000" stroke-width="1" fill="#000"/>
<path d="M644 485 L651 477.5 L660 473 L668 472 L676 475.5 L681 481 L690 500 L689 512 L675 524 L667 527 L658 526 L650 510Z" stroke="#000" stroke-width="1.3" fill="#fff"/>
<path d="M653 481 L667 482.5 L676 477.5" stroke="#000" stroke-width="1.2" fill="none"/>
<path d="M667 482.5 L677 508 L690 500" stroke="#000" stroke-width="1.2" fill="none"/>
<path d="M677 508 L673.5 512 L674.5 524" stroke="#000" stroke-width="1.2" fill="none"/>
<path d="M681 481 L690 500" stroke="#000" stroke-width="1.2" fill="none"/>
<ellipse cx="656.5" cy="506.5" rx="12.5" ry="21.5" transform="rotate(-22 656.5 506.5)" stroke="#000" stroke-width="1.4" fill="#fff"/>
<ellipse cx="655.5" cy="507.2" rx="10.5" ry="19.5" transform="rotate(-22 655.5 507.2)" stroke="#000" stroke-width="1.0" fill="none"/>
<ellipse cx="654.8" cy="507.8" rx="9.2" ry="18" transform="rotate(-22 654.8 507.8)" stroke="#000" stroke-width="0.9" fill="none"/>
<path d="M629.3 501.8 L651 489.7 L663 497 L668 512 L666.6 520 L644 529.5Z" stroke="#000" stroke-width="1.3" fill="#fff"/>
<path d="M629.3 501.8 L651 489.7" stroke="#000" stroke-width="2.2" fill="none"/>
<line x1="632" y1="499.5" x2="635.4" y2="504.5" stroke="#000" stroke-width="1.6"/>
<line x1="634.4" y1="498.2" x2="637.8" y2="503.2" stroke="#000" stroke-width="1.6"/>
<line x1="636.8" y1="497" x2="640.2" y2="502" stroke="#000" stroke-width="1.6"/>
<line x1="639.2" y1="495.8" x2="642.6" y2="500.8" stroke="#000" stroke-width="1.6"/>
<line x1="641.6" y1="494.5" x2="645" y2="499.5" stroke="#000" stroke-width="1.6"/>
<line x1="644" y1="493.2" x2="647.4" y2="498.2" stroke="#000" stroke-width="1.6"/>
<line x1="646.4" y1="492" x2="649.8" y2="497" stroke="#000" stroke-width="1.6"/>
<line x1="648.8" y1="490.8" x2="652.2" y2="495.8" stroke="#000" stroke-width="1.6"/>
<line x1="651.2" y1="489.5" x2="654.6" y2="494.5" stroke="#000" stroke-width="1.6"/>
<line x1="653.6" y1="488.2" x2="657" y2="493.2" stroke="#000" stroke-width="1.6"/>
<line x1="645" y1="513" x2="645.3" y2="527.5" stroke="#000" stroke-width="1.4"/>
<line x1="647.1" y1="512.3" x2="647.4" y2="526.3" stroke="#000" stroke-width="1.4"/>
<line x1="649.2" y1="511.6" x2="649.5" y2="525.1" stroke="#000" stroke-width="1.4"/>
<line x1="651.3" y1="510.9" x2="651.6" y2="523.9" stroke="#000" stroke-width="1.4"/>
<line x1="653.4" y1="510.2" x2="653.7" y2="522.7" stroke="#000" stroke-width="1.4"/>
<line x1="655.5" y1="509.5" x2="655.8" y2="521.5" stroke="#000" stroke-width="1.4"/>
<line x1="657.6" y1="508.8" x2="657.9" y2="520.3" stroke="#000" stroke-width="1.4"/>
<line x1="659.7" y1="508.1" x2="660" y2="519.1" stroke="#000" stroke-width="1.4"/>
<line x1="661.8" y1="507.4" x2="662.1" y2="517.9" stroke="#000" stroke-width="1.4"/>
<line x1="663.9" y1="506.7" x2="664.2" y2="516.7" stroke="#000" stroke-width="1.4"/>
<path d="M639.7 509.6 C640.8 509 643.8 506.9 646 506 C648.2 505.1 650.4 504.8 652.7 504.4 C655 504 658.8 503.6 660 503.5" stroke="#000" stroke-width="1.1" fill="none"/>
<ellipse cx="634" cy="516" rx="10" ry="14.5" transform="rotate(-10 634 516)" stroke="#000" stroke-width="1.5" fill="#fff"/>
<ellipse cx="631.2" cy="519.2" rx="7.6" ry="7.8" transform="rotate(0 631.2 519.2)" stroke="#000" stroke-width="1.5" fill="#fff"/>
<path d="M629.5 514.5 Q632 512.5 634.5 515.5" stroke="#000" stroke-width="1" fill="none"/>
<path d="M632.5 520 L632.5 524.5" stroke="#000" stroke-width="1" fill="none"/>
<path d="M535 560 L541 517.7 L544.3 515 L548.3 513 L553.7 515.7 L575 532.4" stroke="#000" stroke-width="1.2" fill="none"/>
<path d="M546 517.5 L573.5 535.5" stroke="#000" stroke-width="1" fill="none"/>
<path d="M575 532.4 L573.7 547.7" stroke="#000" stroke-width="1.2" fill="none"/>
<path d="M572.4 533 C572.1 532.1 570.8 529.6 570.4 527.7 C570 525.8 569.2 523.7 570 521.5 C570.8 519.3 572.4 516.2 575 514.3 C577.6 512.4 582.1 510.6 585.7 510.3 C589.3 510 593.4 511.2 596.4 512.5 C599.4 513.8 601.8 515.7 604 518 C606.2 520.3 608 523.1 609.7 526.3 C611.4 529.5 613.1 533.5 614 537 C614.9 540.5 615 543.7 615 547 C615 550.3 614.9 553.5 614 557 C613.1 560.5 611.4 564.2 609.7 567.7 C608 571.2 605.8 574.7 604 578 C602.2 581.3 600.5 585.3 599 587.7 C597.5 590.1 596.5 590.8 595 592.5 C593.5 594.2 590.7 597 589.8 597.9" stroke="#000" stroke-width="1.2" fill="none"/>
<path d="M598.5 515 C599.8 516 604 518.7 606 521 C608 523.3 609.4 525.8 610.5 529 C611.6 532.2 612.5 535.5 612.8 540 C613.1 544.5 613.4 551.5 612.5 556 C611.6 560.5 609.4 563 607.5 567 C605.6 571 602.9 576.5 601 580 C599.1 583.5 596.8 586.7 596 588" stroke="#000" stroke-width="0.9" fill="none"/>
<ellipse cx="592.5" cy="540.5" rx="8.3" ry="14" transform="rotate(-30 592.5 540.5)" stroke="#000" stroke-width="1.4" fill="none"/>
<ellipse cx="594.2" cy="542.3" rx="6.4" ry="11.8" transform="rotate(-30 594.2 542.3)" stroke="#000" stroke-width="1.2" fill="none"/>
<path d="M584 529 C583.8 530.2 582.7 533.3 583 536 C583.3 538.7 584.5 542.4 586 545 C587.5 547.6 589.8 549.9 592 551.5 C594.2 553.1 597.8 554 599 554.5" stroke="#000" stroke-width="1.2" fill="none"/>
<path d="M580.5 549 L585 546" stroke="#000" stroke-width="1" fill="none"/>
<path d="M573.7 547.7 L553.7 551" stroke="#000" stroke-width="1.2" fill="none"/>
<path d="M555 553 L563 574.4 L568.4 578.4 L573.7 571.7 L580 572 L585.7 577" stroke="#000" stroke-width="1.2" fill="none"/>
<path d="M575 547.7 C576.3 549.5 580.9 555.3 583 558.4 C585.1 561.5 586.8 563.7 587.7 566.4 C588.6 569.1 588.5 572.6 588.4 574.4 C588.3 576.2 587.2 576.6 587 577" stroke="#000" stroke-width="1.2" fill="none"/>
<path d="M548.3 553 L544.3 593" stroke="#000" stroke-width="1.2" fill="none"/>
<path d="M551 551 L546.3 593" stroke="#000" stroke-width="1" fill="none"/>
<path d="M532.3 574 L544.9 570.5" stroke="#000" stroke-width="1" fill="none"/>
<path d="M530.2 595.8 L546.3 593.7" stroke="#000" stroke-width="1" fill="none"/>
<path d="M573.7 577 L573.7 592" stroke="#000" stroke-width="1.1" fill="none"/>
<path d="M576.5 577 L576.5 593" stroke="#000" stroke-width="1.1" fill="none"/>
<path d="M570.1 595.1 L578.5 597.2 L589.8 597.9" stroke="#000" stroke-width="1.2" fill="none"/>
<path d="M535 560 C534.6 563.3 533.3 573.7 532.5 580 C531.7 586.3 531 594.7 530.2 597.9 C529.5 601.1 528 598.4 528 599.3 C528 600.2 529.5 601.6 530.2 603.5 C530.9 605.4 533.7 607.8 532.3 610.5 C530.9 613.2 525 616.7 522 620 C519 623.3 515.9 627 514 630.1 C512.1 633.2 511.2 635.7 510.5 638.5 C509.8 641.3 509.3 644.5 509.8 647 C510.3 649.5 511.7 651.8 513.3 653.3 C514.9 654.8 517.1 655.8 519.6 656 C522.1 656.2 524.7 656 528 654.7 C531.3 653.4 535.8 651.1 539.3 648.4 C542.8 645.7 545.8 643 549.1 638.5 C552.4 634 556.6 626.1 558.9 621.7 C561.2 617.3 561.5 615.9 563.1 611.9 C564.7 607.9 567.5 600.7 568.7 597.9 C569.9 595.1 569.9 595.6 570.1 595.1" stroke="#000" stroke-width="1.2" fill="none"/>
<path d="M534.5 612 C532.8 613.7 527 618.8 524 622 C521 625.2 518.2 628.2 516.5 631 C514.8 633.8 514 636.3 513.5 639 C513 641.7 512.8 644.8 513.3 647 C513.8 649.2 516 651.6 516.5 652.5" stroke="#000" stroke-width="0.9" fill="none"/>
<ellipse cx="553.3" cy="604.9" rx="3.3" ry="5.3" transform="rotate(30 553.3 604.9)" stroke="#000" stroke-width="1.3" fill="none"/>
<ellipse cx="525.2" cy="639.5" rx="3.3" ry="6" transform="rotate(30 525.2 639.5)" stroke="#000" stroke-width="1.5" fill="none"/>
<path d="M380.6 635.6 L388.4 630.4 L405.3 634.7 L415.7 654.7 L410.1 672 L403.2 675.1 L386.2 670.3 L375.4 652.1Z" stroke="#000" stroke-width="1.3" fill="#fff"/>
<path d="M380.6 635.6 L397.5 639.5 L405.3 634.7" stroke="#000" stroke-width="1.2" fill="none"/>
<path d="M397.5 639.5 L408 658.2 L415.7 654.7" stroke="#000" stroke-width="1.2" fill="none"/>
<path d="M408 658.2 L403.2 675.1" stroke="#000" stroke-width="1.2" fill="none"/>
<ellipse cx="391.5" cy="654.3" rx="7.2" ry="12" transform="rotate(-25 391.5 654.3)" stroke="#000" stroke-width="1.3" fill="none"/>
<ellipse cx="392.3" cy="654" rx="5.2" ry="10" transform="rotate(-25 392.3 654)" stroke="#000" stroke-width="1" fill="none"/>
<path d="M388.5 645 L391 662" stroke="#000" stroke-width="1.1" fill="none"/>
<path d="M392.5 644.5 L396 661" stroke="#000" stroke-width="1.1" fill="none"/>
<path d="M578 620.2 L582 617.4 L585.2 617.4 L588.4 619.4 L616.5 634.6" stroke="#000" stroke-width="1.3" fill="none"/>
<path d="M578 620.2 L578 625.8 L585.2 630.6 L610.9 645.1" stroke="#000" stroke-width="1.3" fill="none"/>
<path d="M582 617.4 L588 622.5 L588 629.5" stroke="#000" stroke-width="1" fill="none"/>
<path d="M583 621 L586 623" stroke="#000" stroke-width="1" fill="none"/>
<path d="M590.5 620.8 Q 586.9 626.4 588.3 632" stroke="#000" stroke-width="1.1" fill="none"/>
<path d="M593.4 622.4 Q 589.8 628 591.1 633.7" stroke="#000" stroke-width="1.1" fill="none"/>
<path d="M596.2 623.9 Q 592.6 629.6 594 635.3" stroke="#000" stroke-width="1.1" fill="none"/>
<path d="M599 625.5 Q 595.4 631.2 596.8 636.9" stroke="#000" stroke-width="1.1" fill="none"/>
<path d="M601.9 627 Q 598.3 632.7 599.7 638.5" stroke="#000" stroke-width="1.1" fill="none"/>
<path d="M604.8 628.5 Q 601.1 634.3 602.5 640.1" stroke="#000" stroke-width="1.1" fill="none"/>
<path d="M607.6 630.1 Q 604 635.9 605.4 641.7" stroke="#000" stroke-width="1.1" fill="none"/>
<path d="M610.5 631.6 Q 606.9 637.5 608.2 643.3" stroke="#000" stroke-width="1.1" fill="none"/>
<path d="M613.3 633.2 Q 609.7 639 611.1 644.9" stroke="#000" stroke-width="1.1" fill="none"/>
<ellipse cx="616" cy="645.5" rx="5" ry="11.5" transform="rotate(20 616 645.5)" stroke="#000" stroke-width="1.4" fill="#fff"/>
<path d="M618 637 L621.3 633.8 L624.5 632.6 L629.3 633.8 L634.9 638.6 L636.5 640.3 L637.3 648.3 L633 655 L626.1 659.5 L620 658 L616.5 654.7 L616 645Z" stroke="#000" stroke-width="1.3" fill="#fff"/>
<path d="M621.3 633.8 L622.1 639.5 L626.1 643.5 L632.5 642.7 L634.9 638.6" stroke="#000" stroke-width="1.1" fill="none"/>
<path d="M626.1 643.5 L626.5 659.3" stroke="#000" stroke-width="1.1" fill="none"/>
<path d="M632.5 642.7 L637.3 648.3" stroke="#000" stroke-width="1.1" fill="none"/>
<path d="M622.1 639.5 L618.5 646 L620 658" stroke="#000" stroke-width="1.1" fill="none"/>
<line x1="413.1" y1="646" x2="420.7" y2="642.2" stroke="#000" stroke-width="1.1"/>
<line x1="433.5" y1="634.1" x2="445.3" y2="627.7" stroke="#000" stroke-width="1.1"/>
<line x1="458.6" y1="620.2" x2="470.9" y2="613.3" stroke="#000" stroke-width="1.1"/>
<line x1="482.6" y1="605.3" x2="494.4" y2="599.4" stroke="#000" stroke-width="1.1"/>
<line x1="507.2" y1="591.9" x2="519.5" y2="584.4" stroke="#000" stroke-width="1.1"/>
<line x1="426.7" y1="639.1" x2="427.5" y2="638.7" stroke="#000" stroke-width="1.3"/>
<line x1="451.3" y1="624.7" x2="452.1" y2="624.3" stroke="#000" stroke-width="1.3"/>
<line x1="475.8" y1="609.7" x2="476.6" y2="609.3" stroke="#000" stroke-width="1.3"/>
<line x1="500.9" y1="595.3" x2="501.7" y2="594.9" stroke="#000" stroke-width="1.3"/>
<line x1="525" y1="581.4" x2="525.8" y2="581" stroke="#000" stroke-width="1.3"/>
<line x1="569.1" y1="615.6" x2="569.9" y2="615.2" stroke="#000" stroke-width="1.3"/>
<line x1="576.6" y1="618.9" x2="577.4" y2="618.5" stroke="#000" stroke-width="1.3"/>
<line x1="556" y1="608" x2="563" y2="611.1" stroke="#000" stroke-width="1.1"/>
<path d="M351.3 593.5 C352.4 592.2 355.8 588.5 358 586 C360.2 583.5 363.3 581.7 364.7 578.5 C366.1 575.3 365 571.2 366.4 566.8 C367.8 562.3 370.8 555.7 373 551.8 C375.2 547.9 376.6 547 379.7 543.4 C382.8 539.8 387.7 533.5 391.4 530 C395.1 526.5 398.4 524.7 402 522.5 C405.6 520.3 409.1 519.4 412.9 517 C416.7 514.6 423 509.8 425 508.4" stroke="#111" stroke-width="0.95" fill="none" stroke-dasharray="4 1.6"/>
<path d="M369.7 578.5 C369.9 576.1 370.2 568.8 371 564 C371.8 559.2 372.4 554.5 374.7 550 C377 545.5 381.1 540.9 384.7 536.7 C388.3 532.5 391.1 528.6 396.4 525 C401.7 521.4 411.9 517.3 416.5 515 C421.1 512.7 422.8 511.7 424 511" stroke="#111" stroke-width="0.95" fill="none" stroke-dasharray="4 1.6"/>
<path d="M378 578.5 C378.3 576.8 378.9 571.4 380 568 C381.1 564.6 382.5 561.4 384.7 558.4 C386.9 555.4 389.6 553.6 393 550 C396.4 546.4 400.3 540.3 404.8 536.7 C409.3 533.1 416.1 530.4 419.8 528.4 C423.5 526.4 425.8 525.6 427 525" stroke="#111" stroke-width="0.95" fill="none" stroke-dasharray="4 1.6"/>
<path d="M391.4 580 C391.8 578.7 392.4 574.5 393.5 572 C394.6 569.5 396.2 567.5 398.1 565 C400 562.5 402.3 559.3 404.8 556.8 C407.3 554.3 410.4 552 413.1 550 C415.8 548 419.7 545.8 421 545" stroke="#111" stroke-width="0.95" fill="none" stroke-dasharray="4 1.6"/>
<path d="M405 523.4 C406.2 522.7 409.8 520.4 412 519 C414.2 517.6 417.3 515.7 418.4 515" stroke="#111" stroke-width="0.95" fill="none" stroke-dasharray="4 1.6"/>
<path d="M406.7 550 C408.1 548.8 411.9 545.2 415 543 C418.1 540.8 423.3 537.8 425 536.7" stroke="#111" stroke-width="0.95" fill="none" stroke-dasharray="4 1.6"/>
<path d="M394.8 585 C394.8 586.2 394.7 589.8 395 592 C395.3 594.2 396.2 597.4 396.4 598.5" stroke="#111" stroke-width="0.95" fill="none" stroke-dasharray="4 1.6"/>
<path d="M386.4 588.5 C386.3 589.8 385.7 593.4 386 596 C386.3 598.6 387.7 602.7 388 604" stroke="#111" stroke-width="0.95" fill="none" stroke-dasharray="4 1.6"/>
<path d="M425 508.4 C426 507.7 428.8 505.1 431 504 C433.2 502.9 435.5 501.5 438.4 501.7 C441.3 501.9 445.9 503.3 448.4 505 C450.9 506.7 452.6 509.2 453.4 511.7 C454.2 514.2 454.2 517.5 453.4 520 C452.6 522.5 449.2 525.6 448.4 526.7" stroke="#111" stroke-width="0.95" fill="none" stroke-dasharray="4 1.6"/>
<ellipse cx="443.4" cy="519.2" rx="4.3" ry="6.3" transform="rotate(15 443.4 519.2)" stroke="#111" stroke-width="0.95" fill="none" stroke-dasharray="4 1.6"/>
<ellipse cx="444.2" cy="519.4" rx="2.6" ry="4.2" transform="rotate(15 444.2 519.4)" stroke="#111" stroke-width="0.8" fill="none" stroke-dasharray="3 1.5"/>
<path d="M450 525 C450 529.5 450 547.3 450 551.8" stroke="#111" stroke-width="0.95" fill="none" stroke-dasharray="4 1.6"/>
<path d="M446.7 528.4 C446.7 531.7 446.7 544.7 446.7 548" stroke="#111" stroke-width="0.95" fill="none" stroke-dasharray="4 1.6"/>
<path d="M440 528 C439.7 529.2 438.3 533.8 438 535" stroke="#111" stroke-width="0.95" fill="none" stroke-dasharray="4 1.6"/>
<path d="M424 534 C426.7 535.2 436.3 538.3 440 541 C443.7 543.7 445 548.5 446 550" stroke="#111" stroke-width="0.95" fill="none" stroke-dasharray="4 1.6"/>
<path d="M456.8 535 C459.3 536.7 468.5 542.2 471.8 545 C475.1 547.8 476.2 549 476.8 551.8 C477.4 554.6 476.8 559.3 475.1 561.8 C473.4 564.3 469.6 566.5 466.8 566.8 C464 567.1 459.8 564 458.4 563.4" stroke="#111" stroke-width="0.95" fill="none" stroke-dasharray="4 1.6"/>
<ellipse cx="466" cy="556.8" rx="4.3" ry="6.3" transform="rotate(15 466 556.8)" stroke="#111" stroke-width="0.95" fill="none" stroke-dasharray="4 1.6"/>
<ellipse cx="466.8" cy="557" rx="2.6" ry="4.2" transform="rotate(15 466.8 557)" stroke="#111" stroke-width="0.8" fill="none" stroke-dasharray="3 1.5"/>
<path d="M458.4 565 C457 566.1 451.4 570.7 450 571.8" stroke="#111" stroke-width="0.95" fill="none" stroke-dasharray="4 1.6"/>
<path d="M450 552 C451.3 553.3 456.7 558.7 458 560" stroke="#111" stroke-width="0.95" fill="none" stroke-dasharray="4 1.6"/>
<path d="M426.7 558.4 C424.9 559.3 418.8 561.8 416 564 C413.2 566.2 411.4 567.7 410 571.8 C408.6 575.9 406.7 583.5 407.5 588.5 C408.3 593.5 411.2 598.5 415 601.8 C418.8 605.1 427.5 607.4 430 608.5" stroke="#111" stroke-width="0.95" fill="none" stroke-dasharray="4 1.6"/>
<path d="M432 564 C430.3 565 424.3 567.3 422 570 C419.7 572.7 418.7 576 418 580 C417.3 584 417 590.3 418 594 C419 597.7 423 600.7 424 602" stroke="#111" stroke-width="0.95" fill="none" stroke-dasharray="4 1.6"/>
<path d="M435 566.8 C436.2 567.7 440.1 568.9 442 572 C443.9 575.1 445.9 581.9 446.7 585.2 C447.5 588.5 446.9 590.9 447 592" stroke="#111" stroke-width="0.95" fill="none" stroke-dasharray="4 1.6"/>
<path d="M427 575 C426.3 576.7 423.5 581.5 423 585 C422.5 588.5 423.8 594.2 424 596" stroke="#111" stroke-width="0.95" fill="none" stroke-dasharray="4 1.6"/>
<path d="M433 572 C433.8 573.3 436.8 576.7 438 580 C439.2 583.3 440.3 588.7 440 592 C439.7 595.3 436.7 598.7 436 600" stroke="#111" stroke-width="0.95" fill="none" stroke-dasharray="4 1.6"/>
<path d="M430 560 C431.7 560 437.3 559 440 560 C442.7 561 444.3 563.5 446 566 C447.7 568.5 449.3 571 450 575 C450.7 579 450 587.5 450 590" stroke="#111" stroke-width="0.95" fill="none" stroke-dasharray="4 1.6"/>
<path d="M443.4 593.5 C444.8 593.8 449.5 593.8 451.7 595.2 C453.9 596.6 456.5 599.3 456.8 601.8 C457.1 604.3 455.4 608.5 453.4 610.2 C451.4 611.9 447.5 612.5 445 611.9 C442.5 611.3 439.5 607.6 438.4 606.8" stroke="#111" stroke-width="0.95" fill="none" stroke-dasharray="4 1.6"/>
<ellipse cx="447.6" cy="602.7" rx="4" ry="5.8" transform="rotate(15 447.6 602.7)" stroke="#111" stroke-width="0.95" fill="none" stroke-dasharray="4 1.6"/>
<ellipse cx="448.2" cy="603" rx="2.4" ry="3.8" transform="rotate(15 448.2 603)" stroke="#111" stroke-width="0.8" fill="none" stroke-dasharray="3 1.5"/>
<path d="M430 603 C431.3 603.6 436.7 606.2 438 606.8" stroke="#111" stroke-width="0.95" fill="none" stroke-dasharray="4 1.6"/>
<path d="M351.3 593.5 C351 594.9 349.4 599.3 349.7 601.8 C350 604.3 351.3 606.8 353 608.5 C354.7 610.2 357.2 611.3 359.7 611.9 C362.2 612.5 365.5 612.5 368 611.9 C370.5 611.3 372.2 610.2 374.7 608.5 C377.2 606.8 381.1 605.1 383 601.8 C384.9 598.5 386.7 591.8 386.4 588.5 C386.1 585.2 383.6 582.6 381.4 581.8 C379.2 581 374.4 583.2 373 583.5" stroke="#111" stroke-width="0.95" fill="none" stroke-dasharray="4 1.6"/>
<ellipse cx="366.4" cy="601.8" rx="4.3" ry="6.5" transform="rotate(20 366.4 601.8)" stroke="#111" stroke-width="0.95" fill="none" stroke-dasharray="4 1.6"/>
<ellipse cx="367" cy="602" rx="2.6" ry="4.3" transform="rotate(20 367 602)" stroke="#111" stroke-width="0.8" fill="none" stroke-dasharray="3 1.5"/>
<path d="M371.4 590 C374.7 589.3 388.1 586.7 391.4 586" stroke="#111" stroke-width="0.95" fill="none" stroke-dasharray="4 1.6"/>
<path d="M375 597 C377.7 596.4 388.3 594.1 391 593.5" stroke="#111" stroke-width="0.95" fill="none" stroke-dasharray="4 1.6"/>
<path d="M384.7 608.5 C386.1 608.8 390.8 609.6 393 610.2 C395.2 610.8 395 611.4 398.1 611.9 C401.2 612.4 407.8 613.6 411.7 613.5 C415.6 613.4 416.7 611.5 421.7 611 C426.7 610.5 438.4 610.3 441.7 610.2" stroke="#111" stroke-width="0.95" fill="none" stroke-dasharray="4 1.6"/>
<path d="M383 576 C383.4 573.7 384.2 566.2 385.5 562 C386.8 557.8 388.6 554.7 391 551 C393.4 547.3 396.7 543.2 400 540 C403.3 536.8 407.3 534 411 531.5 C414.7 529 420.2 526.1 422 525" stroke="#111" stroke-width="0.95" fill="none" stroke-dasharray="4 1.6"/>
<path d="M399 584 C399.2 582.2 399.4 576.5 400.5 573 C401.6 569.5 403.4 565.9 405.5 563 C407.6 560.1 411.8 556.8 413 555.5" stroke="#111" stroke-width="0.95" fill="none" stroke-dasharray="4 1.6"/>
<path d="M403.5 598 C403.3 596.2 402.3 590.5 402.5 587 C402.7 583.5 404.2 578.7 404.5 577" stroke="#111" stroke-width="0.95" fill="none" stroke-dasharray="4 1.6"/>
<path d="M361 585 C361.2 582.8 361.7 576.2 362.5 572 C363.3 567.8 365.4 562 366 560" stroke="#111" stroke-width="0.95" fill="none" stroke-dasharray="4 1.6"/>
<path d="M377 540 C378.8 538.3 384.2 532.8 388 530 C391.8 527.2 398 524.2 400 523" stroke="#111" stroke-width="0.95" fill="none" stroke-dasharray="4 1.6"/>
<path d="M409 528 C410.5 526.8 414.8 523 418 521 C421.2 519 426.3 516.8 428 516" stroke="#111" stroke-width="0.95" fill="none" stroke-dasharray="4 1.6"/>
<path d="M420 550 C421.3 549.2 425.3 546.2 428 545 C430.7 543.8 434.7 543.3 436 543" stroke="#111" stroke-width="0.95" fill="none" stroke-dasharray="4 1.6"/>
</svg>
</body></html>
